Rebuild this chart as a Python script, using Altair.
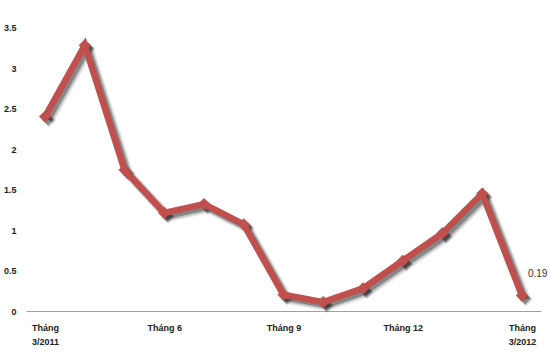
import altair as alt
import pandas as pd

months = list(range(13))
values = [2.40, 3.28, 1.74, 1.21, 1.32, 1.07, 0.20, 0.11, 0.28, 0.62, 0.96, 1.45, 0.19]
tick_positions = [0, 3, 6, 9, 12]
tick_labels = ["Tháng|3/2011", "Tháng 6", "Tháng 9", "Tháng 12", "Tháng|3/2012"]
y_ticks = [0, 0.5, 1, 1.5, 2, 2.5, 3, 3.5]

df = pd.DataFrame({"m": months, "v": values})
last = df.tail(1).assign(lbl=["0.19"])

label_expr = " : ".join(
    f"datum.value == {p} ? split('{l}', '|')" for p, l in zip(tick_positions, tick_labels)
) + " : ''"

x_scale = alt.Scale(domain=[-0.48, 12.48], nice=False, zero=False)
y_scale = alt.Scale(domain=[0, 3.5], nice=False)

x_enc = alt.X("m:Q", scale=x_scale, axis=alt.Axis(
    values=tick_positions, labelExpr=label_expr, title=None, grid=False,
    ticks=False, domain=True, domainColor="#a0a0a0", domainWidth=1,
    labelFont="Liberation Sans", labelFontSize=9, labelFontWeight="bold",
    labelColor="#222222", labelPadding=12, labelLineHeight=14,
    labelOverlap=False, labelFlush=False))
y_enc = alt.Y("v:Q", scale=y_scale, axis=alt.Axis(
    values=y_ticks, title=None, grid=False, ticks=False, domain=False,
    labelFont="Liberation Sans", labelFontSize=9, labelFontWeight="bold",
    labelColor="#222222", labelPadding=10, format="~g"))

base = alt.Chart(df)

shadows = []
for off, w, op, s in [(4, 10, 0.10, 190), (3.5, 8, 0.16, 160), (3, 6, 0.3, 130)]:
    shadows.append(base.mark_line(color="#000000", strokeWidth=w, opacity=op,
                                  xOffset=off, yOffset=off, strokeJoin="round")
                   .encode(x=x_enc, y=y_enc))
    shadows.append(base.mark_point(shape="diamond", filled=True, color="#000000",
                                   size=s, opacity=op, xOffset=off, yOffset=off)
                   .encode(x=x_enc, y=y_enc))

line = base.mark_line(color="#c0504d", strokeWidth=6.5, strokeJoin="miter").encode(x=x_enc, y=y_enc)
pts = base.mark_point(shape="diamond", filled=True, color="#c0504d", size=150, opacity=1).encode(x=x_enc, y=y_enc)
txt = alt.Chart(last).mark_text(font="Liberation Sans", fontSize=10, color="#333333",
                                align="left", dx=6, dy=-22).encode(x=x_enc, y=y_enc, text="lbl:N")

chart = alt.layer(*shadows, line, pts, txt).properties(
    width=515, height=283.5,
    padding={"left": 26, "top": 27.5, "right": 9, "bottom": 52},
    autosize=alt.AutoSizeParams(type="none"),
    background="white",
).configure_view(stroke=None)

chart.save("out.html", embed_options={"renderer": "svg", "actions": False})
